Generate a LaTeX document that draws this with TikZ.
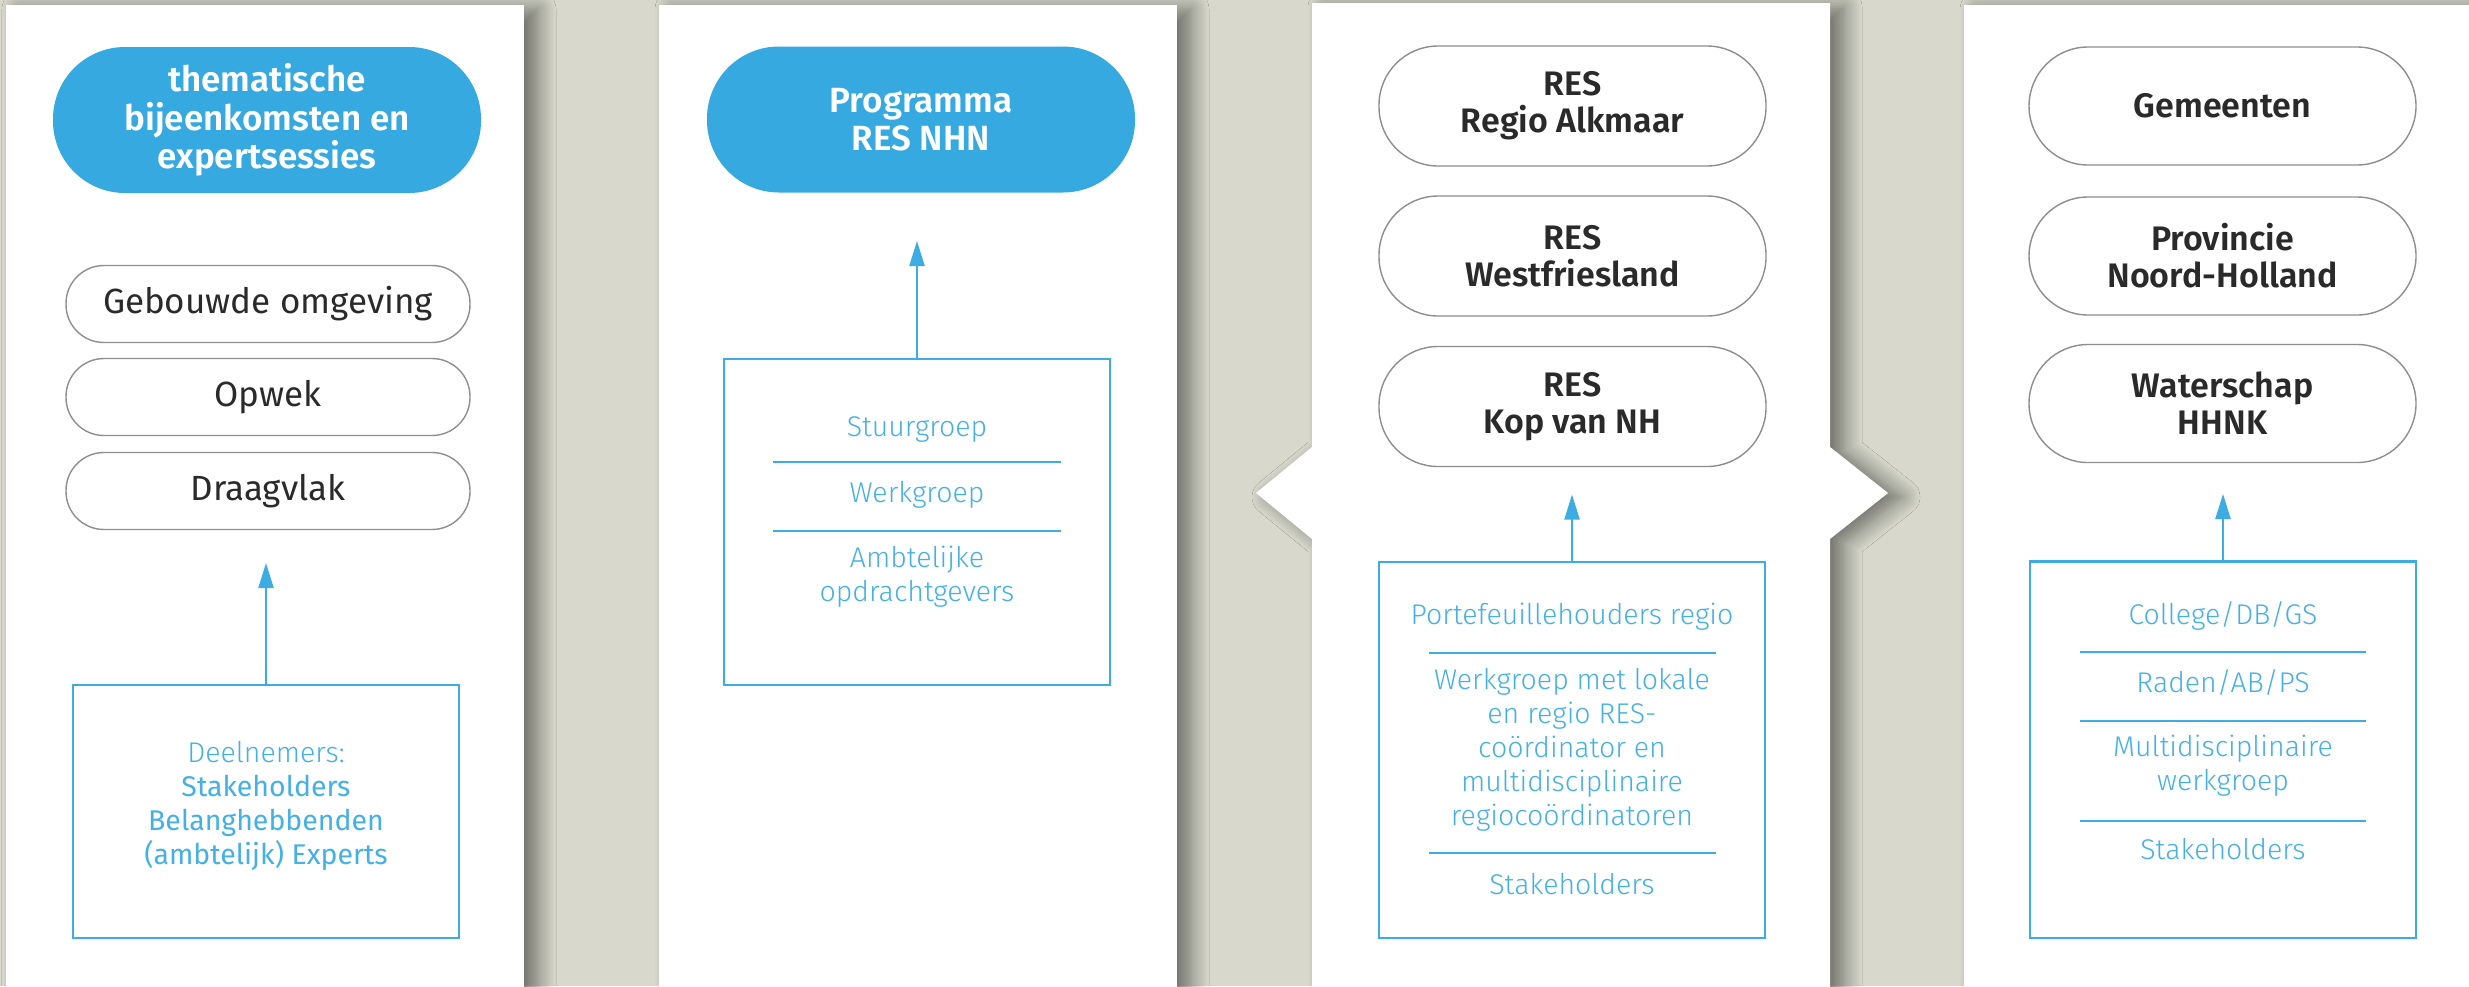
\documentclass[tikz,border=0pt]{standalone}
\usepackage{fontspec}
\setmainfont{Fira Sans}
\newfontfamily\fsemi{Fira Sans SemiBold}
\newfontfamily\flight{Fira Sans Light}
\newfontfamily\freg{Fira Sans}
\usetikzlibrary{shadows.blur,arrows.meta}
\definecolor{bg}{HTML}{D8D9CC}
\definecolor{pillblue}{HTML}{36A9E1}
\definecolor{lineblue}{HTML}{3DACE2}
\definecolor{txtblue}{HTML}{45B0E5}
\definecolor{darktxt}{HTML}{2A2A2A}
\definecolor{pillgray}{HTML}{8E8E8E}
\begin{document}
\begin{tikzpicture}[x=0.5pt,y=-0.5pt,
  panel/.style={fill=white, blur shadow={shadow xshift=7pt, shadow yshift=-2pt, shadow blur radius=9pt, shadow opacity=50, shadow blur steps=12}},
  bpill/.style={fill=pillblue, text=white, rounded corners=36pt, minimum width=214pt, minimum height=73pt, inner sep=0pt, align=center, font=\fsemi\fontsize{17.5}{19.25}\selectfont},
  spill/.style={draw=pillgray, line width=0.7pt, fill=white, rounded corners=19pt, minimum width=202pt, minimum height=38.5pt, inner sep=0pt, align=center, text=darktxt, font=\fontsize{17.5}{19}\selectfont},
  rpill/.style={draw=pillgray, line width=0.7pt, fill=white, rounded corners=29.5pt, minimum width=193.5pt, minimum height=60pt, inner sep=0pt, align=center, text=darktxt, font=\fsemi\fontsize{17}{18.5}\selectfont},
  obox/.style={draw=lineblue, line width=1.2pt, inner sep=0pt, minimum width=193pt},
  btxt/.style={text=txtblue, align=center, inner sep=0pt, font=\flight\fontsize{14.25}{17}\selectfont},
  sepline/.style={draw=lineblue, line width=1pt},
  uparrow/.style={draw=lineblue, line width=1.1pt, -{Triangle[length=12.5pt,width=7.5pt]}}
]
\useasboundingbox (0,0) rectangle (2469,986);
\fill[bg] (0,0) rectangle (2469,986);

% panels
\path[panel] (6,5) rectangle (524,1010);
\path[panel] (659,5) rectangle (1177,1010);
\path[panel] (1312,3) -- (1830,3) -- (1830,447) -- (1888,493) -- (1830,539) -- (1830,1010) -- (1312,1010) -- (1312,539) -- (1256,493) -- (1312,447) -- cycle;
\path[panel] (1964,5) rectangle (2520,1010);

% panel 1
\node[bpill] (them) at (267,120) {thematische\\bijeenkomsten en\\expertsessies};
\node[spill] (geb) at (268,304) {Gebouwde omgeving};
\node[spill] (opw) at (268,397) {Opwek};
\node[spill] (draag) at (268,491) {Draagvlak};
\node[obox, minimum height=126.5pt] (box1) at (266,811.5) {};
\coordinate (t1) at (266,563);
\draw[uparrow] (box1.north) -- (t1);
\node[btxt] (deel) at (266,806) {Deelnemers:\\\freg Stakeholders\\\freg Belanghebbenden\\\freg (ambtelijk) Experts};

% panel 2
\node[bpill] (prog) at (921,119.5) {Programma\\RES NHN};
\node[obox, minimum height=163pt] (box2) at (917,522) {};
\coordinate (t2) at (917,241);
\draw[uparrow] (box2.north) -- (t2);
\node[btxt] (stuur) at (917,429) {Stuurgroep};
\node[btxt] (werk) at (917,495) {Werkgroep};
\node[btxt] (ambt) at (917,577) {Ambtelijke\\opdrachtgevers};
\draw[sepline] (773,462) -- (1061,462);
\draw[sepline] (773,531) -- (1061,531);

% panel 3
\node[rpill] (r1) at (1572.5,106) {RES\\Regio Alkmaar};
\node[rpill] (r2) at (1572.5,256) {RES\\Westfriesland};
\node[rpill] (r3) at (1572.5,406.5) {RES\\Kop van NH};
\node[obox, minimum height=188pt] (box3) at (1572,750) {};
\coordinate (t3) at (1572,494.5);
\draw[uparrow] (box3.north) -- (t3);
\node[btxt] (port) at (1572,617) {Portefeuillehouders regio};
\node[btxt] (wml) at (1572,750) {Werkgroep met lokale\\en regio RES-\\coördinator en\\multidisciplinaire\\regiocoördinatoren};
\node[btxt] (stk3) at (1572,884) {Stakeholders};
\draw[sepline] (1429,653) -- (1716,653);
\draw[sepline] (1429,853) -- (1716,853);

% panel 4
\node[rpill, minimum height=59pt] (gem) at (2222.5,106) {Gemeenten};
\node[rpill, minimum height=59pt] (prov) at (2222.5,256) {Provincie\\Noord-Holland};
\node[rpill, minimum height=59pt] (wat) at (2222.5,403.5) {Waterschap\\HHNK};
\node[obox, minimum height=188.25pt] (box4) at (2223,749.75) {};
\coordinate (t4) at (2223,494);
\draw[uparrow] (box4.north) -- (t4);
\node[btxt] (coll) at (2223,616) {College/DB/GS};
\node[btxt] (rad) at (2223,682) {Raden/AB/PS};
\node[btxt] (mult) at (2223,765.5) {Multidisciplinaire\\werkgroep};
\node[btxt] (stk4) at (2223,849) {Stakeholders};
\draw[sepline] (2080,652) -- (2366,652);
\draw[sepline] (2080,721) -- (2366,721);
\draw[sepline] (2080,820.6) -- (2366,820.6);
\end{tikzpicture}
\end{document}
